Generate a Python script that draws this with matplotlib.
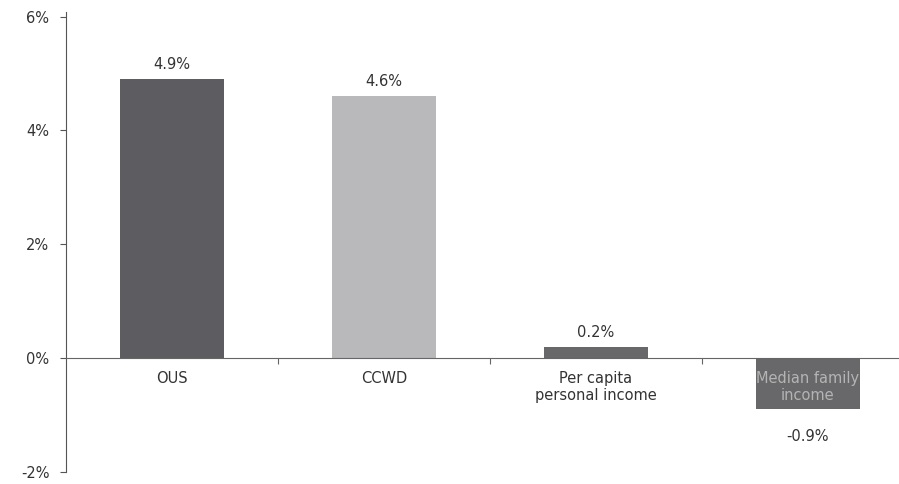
import matplotlib
matplotlib.use("Agg")
import matplotlib.pyplot as plt
from matplotlib.ticker import FuncFormatter

categories = ["OUS", "CCWD", "Per capita\npersonal income", "Median family\nincome"]
values = [4.9, 4.6, 0.2, -0.9]
value_labels = ["4.9%", "4.6%", "0.2%", "-0.9%"]
bar_colors = ["#5d5d61", "#b9b9bb", "#68686a", "#68686a"]
y_ticks = [-2, 0, 2, 4, 6]

plt.rcParams["font.family"] = ["DejaVu Sans"]

fig = plt.figure(figsize=(8.99, 4.84), dpi=100)
ax = fig.add_axes([66 / 899, 12 / 484, 833 / 899, 460 / 484])

x = list(range(len(categories)))
bars = ax.bar(x, values, width=0.49, color=bar_colors, zorder=2)

ax.spines["top"].set_visible(False)
ax.spines["right"].set_visible(False)
ax.spines["left"].set_color("#555555")
ax.spines["bottom"].set_position(("data", 0))
ax.spines["bottom"].set_color("#666666")
ax.spines["bottom"].set_zorder(3)

ax.set_yticks(y_ticks)
ax.yaxis.set_major_formatter(FuncFormatter(lambda v, p: f"{v:.0f}%"))
ax.tick_params(axis="y", length=4, direction="out", colors="#555555",
               labelcolor="#333333", labelsize=10.5, pad=8)

# category boundary ticks on the zero line
ax.set_xticks([i + 0.5 for i in range(len(categories) - 1)])
ax.set_xticklabels([])
ax.tick_params(axis="x", length=4, direction="out", colors="#666666")

ax.set_ylim(-2, 6.08)
ax.set_xlim(-0.5, 3.43)

text_color = "#333333"
for i, (v, lab) in enumerate(zip(values, value_labels)):
    if v >= 0:
        ax.annotate(lab, (i, v), xytext=(0, 5), textcoords="offset points",
                    ha="center", va="bottom", fontsize=10.5, color=text_color)
    else:
        ax.annotate(lab, (i, v), xytext=(0, -14), textcoords="offset points",
                    ha="center", va="top", fontsize=10.5, color=text_color)

for i, (cat, v) in enumerate(zip(categories, values)):
    t = ax.annotate(cat, (i, 0), xytext=(0, -9), textcoords="offset points",
                    ha="center", va="top", fontsize=10.5, color=text_color,
                    linespacing=1.2, zorder=1)
    if v < 0:
        # lighter copy of the label where it sits over the bar
        t2 = ax.annotate(cat, (i, 0), xytext=(0, -9), textcoords="offset points",
                         ha="center", va="top", fontsize=10.5, color="#b4b4b4",
                         linespacing=1.2, zorder=4)
        t2.set_clip_path(bars[i])

fig.savefig("out.png", dpi=100, facecolor="white")
